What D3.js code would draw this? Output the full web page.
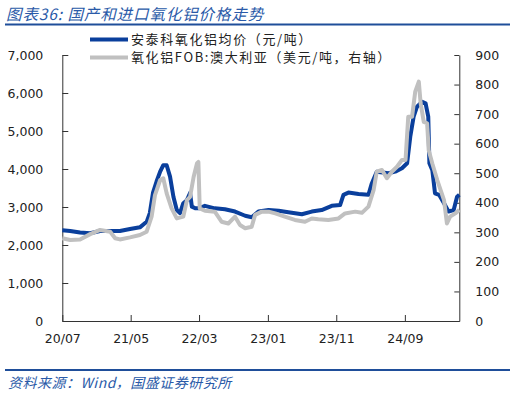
<!DOCTYPE html>
<html>
<head>
<meta charset="utf-8">
<script src="https://cdn.jsdelivr.net/npm/d3@7"></script>
<style>
body { margin: 0; background: #fff; }
svg { display: block; }
.tick text { font-family: "DejaVu Sans", Verdana, sans-serif; font-size: 12.5px; fill: #222; }
</style>
</head>
<body>
<script>
// 安泰科氧化铝均价 (元/吨), left axis
var blueDates = ["2020-07-01","2020-08-05","2020-09-18","2020-11-02","2020-12-16","2021-01-30","2021-03-14","2021-04-28","2021-06-11","2021-07-11","2021-07-25","2021-08-08","2021-08-24","2021-09-09","2021-09-23","2021-10-08","2021-10-23","2021-11-07","2021-11-22","2021-12-06","2021-12-21","2022-01-06","2022-01-20","2022-01-28","2022-02-12","2022-03-04","2022-03-27","2022-05-10","2022-06-24","2022-08-08","2022-09-22","2022-10-21","2022-11-20","2023-01-04","2023-02-18","2023-04-02","2023-06-01","2023-07-15","2023-08-28","2023-10-12","2023-11-18","2023-12-03","2023-12-25","2024-02-08","2024-03-23","2024-04-07","2024-04-29","2024-06-20","2024-07-20","2024-08-19","2024-09-11","2024-09-25","2024-10-10","2024-10-25","2024-11-17","2024-12-02","2024-12-14","2024-12-19","2025-01-01","2025-01-13","2025-01-31","2025-02-22","2025-03-14","2025-04-06","2025-04-21","2025-05-01"];
var blueValues = [2390,2370,2330,2310,2370,2370,2370,2420,2465,2610,2840,3370,3670,3930,4100,4100,3800,3270,2920,2840,3100,3180,3370,3010,2965,2970,3030,2965,2940,2880,2770,2730,2880,2920,2900,2860,2810,2880,2920,3030,3050,3320,3380,3340,3320,3620,3930,3890,3930,4020,4150,4850,5380,5640,5770,5730,5380,4150,3970,3360,3320,3100,2880,2920,3270,3320];

// 氧化铝FOB:澳大利亚 (美元/吨), right axis
var grayDates = ["2020-07-01","2020-08-05","2020-09-18","2020-11-02","2020-12-16","2021-01-30","2021-02-21","2021-03-14","2021-04-28","2021-06-11","2021-07-11","2021-08-02","2021-08-17","2021-09-09","2021-09-23","2021-10-08","2021-10-30","2021-11-22","2021-12-21","2022-01-06","2022-01-20","2022-02-05","2022-02-20","2022-02-26","2022-03-04","2022-03-27","2022-05-10","2022-06-09","2022-07-09","2022-08-08","2022-08-30","2022-09-22","2022-10-21","2022-11-05","2022-12-05","2023-01-04","2023-02-03","2023-03-17","2023-05-01","2023-06-15","2023-07-15","2023-08-13","2023-09-27","2023-11-11","2023-12-10","2024-01-24","2024-02-23","2024-03-23","2024-04-15","2024-04-29","2024-05-22","2024-06-13","2024-07-05","2024-07-28","2024-08-19","2024-09-04","2024-09-16","2024-10-03","2024-10-17","2024-11-02","2024-11-10","2024-11-24","2024-12-09","2024-12-16","2025-01-01","2025-01-23","2025-02-07","2025-02-22","2025-03-07","2025-03-21","2025-04-13","2025-05-01"];
var grayValues = [280,274,276,294,308,302,280,276,283,291,302,353,426,477,483,432,381,347,353,409,420,488,534,538,381,373,370,336,330,353,325,314,319,359,370,370,364,353,342,336,347,344,342,347,364,370,366,387,443,505,511,483,505,522,545,545,691,691,776,810,737,674,669,578,533,477,443,409,330,353,364,376];

var xTicks = ["2020-07-01","2021-05-01","2022-03-01","2023-01-01","2023-11-01","2024-09-01"];
var leftTicks = [0,1000,2000,3000,4000,5000,6000,7000];
var rightTicks = [0,100,200,300,400,500,600,700,800,900];
var legendNames = ["安泰科氧化铝均价（元/吨）", "氧化铝FOB:澳大利亚（美元/吨，右轴）"];

var blueColor = "#0a3f9c", grayColor = "#c0c0c0", navy = "#1f4e9a";
var parse = d3.timeParse("%Y-%m-%d");

var svg = d3.select("body").append("svg").attr("width", 515).attr("height", 395);

var x = d3.scaleTime().domain([parse("2020-07-01"), parse("2025-05-01")]).range([62.3, 459.3]);
var yL = d3.scaleLinear().domain([0, 7000]).range([321, 55]);
var yR = d3.scaleLinear().domain([0, 900]).range([321, 55]);

// title
svg.append("text").attr("x", 6).attr("y", 20)
    .attr("font-family", "'Noto Sans CJK SC', sans-serif").attr("font-size", 15.5)
    .attr("font-style", "italic").attr("fill", "#2a5aa8").attr("letter-spacing", 0.9)
    .text("图表36:  国产和进口氧化铝价格走势");
svg.append("line").attr("x1", 5).attr("x2", 510).attr("y1", 24.5).attr("y2", 24.5)
    .attr("stroke", navy).attr("stroke-width", 2);

// axes
function styleAxis(g){
    g.selectAll(".domain").attr("stroke", "#333");
    g.selectAll(".tick line").attr("stroke", "#333");
}
svg.append("g").attr("transform", "translate(62.3,0)")
    .call(d3.axisLeft(yL).tickValues(leftTicks).tickSize(-6).tickSizeOuter(0).tickPadding(19).tickFormat(d3.format(",")))
    .call(styleAxis);
svg.append("g").attr("transform", "translate(459.3,0)")
    .call(d3.axisRight(yR).tickValues(rightTicks).tickSize(-5).tickSizeOuter(0).tickPadding(16))
    .call(styleAxis);
svg.append("g").attr("transform", "translate(0,321)")
    .call(d3.axisBottom(x).tickValues(xTicks.map(parse)).tickSize(-6).tickSizeOuter(0).tickPadding(13).tickFormat(d3.timeFormat("%y/%m")))
    .call(styleAxis);

// lines
var blueData = blueDates.map(function(d, i){ return {date: parse(d), v: blueValues[i]}; });
var grayData = grayDates.map(function(d, i){ return {date: parse(d), v: grayValues[i]}; });

svg.append("path").datum(blueData)
    .attr("fill", "none").attr("stroke", blueColor).attr("stroke-width", 4).attr("stroke-linejoin", "round")
    .attr("d", d3.line().x(function(d){ return x(d.date); }).y(function(d){ return yL(d.v); }));
svg.append("path").datum(grayData)
    .attr("fill", "none").attr("stroke", grayColor).attr("stroke-width", 4).attr("stroke-linejoin", "round")
    .attr("d", d3.line().x(function(d){ return x(d.date); }).y(function(d){ return yR(d.v); }));

// legend
var legend = svg.append("g");
[blueColor, grayColor].forEach(function(c, i){
    var ly = 39.5 + i * 18;
    legend.append("line").attr("x1", 90).attr("x2", 128).attr("y1", ly).attr("y2", ly)
        .attr("stroke", c).attr("stroke-width", 4);
    legend.append("text").attr("x", 131).attr("y", ly).attr("dy", "0.36em")
        .attr("font-family", "'Noto Sans CJK SC', sans-serif").attr("font-size", 13)
        .attr("letter-spacing", 1.6).attr("fill", "#222")
        .text(legendNames[i]);
});

// source
svg.append("line").attr("x1", 5).attr("x2", 510).attr("y1", 370).attr("y2", 370)
    .attr("stroke", navy).attr("stroke-width", 2);
svg.append("text").attr("x", 8).attr("y", 388)
    .attr("font-family", "'Noto Sans CJK SC', sans-serif").attr("font-size", 14)
    .attr("font-style", "italic").attr("fill", "#2a5aa8").attr("letter-spacing", 0.5)
    .text("资料来源：Wind，国盛证券研究所");
</script>
</body>
</html>
